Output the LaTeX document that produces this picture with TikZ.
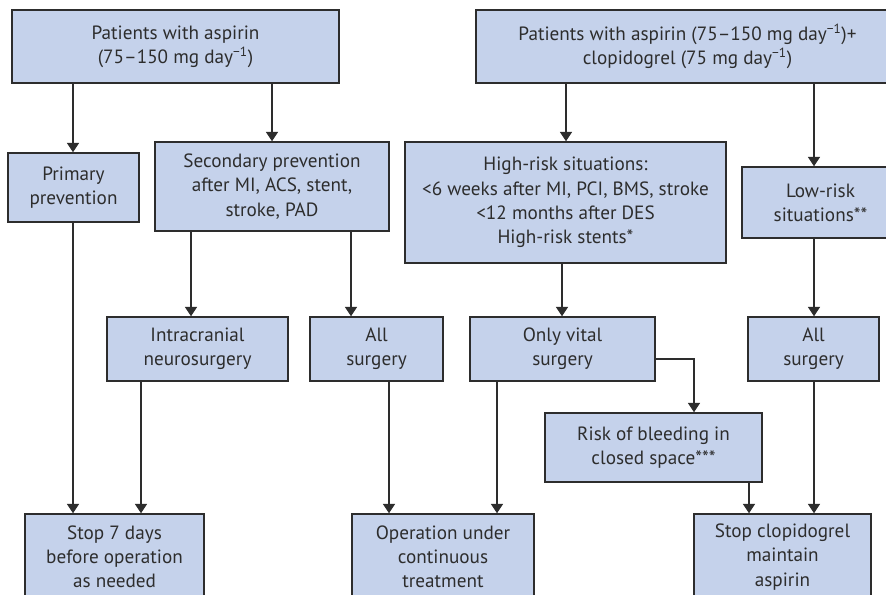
\documentclass[tikz,border=0pt]{standalone}
\usepackage{fontspec}
\setmainfont{PT Sans}
\usetikzlibrary{arrows.meta}
\definecolor{boxfill}{RGB}{197,210,235}
\definecolor{ink}{RGB}{45,45,45}
\tikzset{
  box/.style 2 args={draw=ink, line width=1.1pt, fill=boxfill, text=ink,
    align=center, inner sep=2pt,
    minimum width=#1*0.75pt, minimum height=#2*0.75pt,
    font=\fontsize{14.4}{18.2}\selectfont},
  arr/.style={draw=ink, line width=0.8pt, -{Triangle[length=7pt,width=9pt]}}
}
\newcommand{\perday}{day\textsuperscript{−1}}
\begin{document}
\begin{tikzpicture}[x=0.75pt,y=-0.75pt]
\useasboundingbox (0,0) rectangle (886,594);
\clip (0,0) rectangle (886,594);
\fill[white] (0,0) rectangle (886,594);

% top row
\node[box={327}{73}] (asp) at (175.5,46.5) {Patients with aspirin\\(75–150 mg \perday)};
\node[box={423}{73}] (dual) at (687.5,46.5) {Patients with aspirin (75–150 mg \perday)+\\clopidogrel (75 mg \perday)};

% second row
\node[box={131}{69}] (prim) at (73.5,187.5) {Primary\\prevention};
\node[box={234}{89}] (sec) at (272,186.5) {Secondary prevention\\after MI, ACS, stent,\\stroke, PAD};
\node[box={321}{121}] (high) at (565.5,202.5) {High-risk situations:\\<6 weeks after MI, PCI, BMS, stroke\\<12 months after DES\\High-risk stents*};
\node[box={157}{71}] (low) at (820.5,202.5) {Low-risk\\situations**};

% third row
\node[box={181}{64}] (intra) at (197.5,349) {Intracranial\\neurosurgery};
\node[box={133}{64}] (allL) at (376.5,349) {All\\surgery};
\node[box={185}{64}] (vital) at (562.5,349) {Only vital\\surgery};
\node[box={131}{64}] (allR) at (813.5,349) {All\\surgery};
\node[box={217}{69}] (risk) at (653.5,447.5) {Risk of bleeding in\\closed space***};

% outcomes
\node[box={179}{86}] (stop7) at (114.5,557) {Stop 7 days\\before operation\\as needed};
\node[box={182}{86}] (oper) at (443,557) {Operation under\\continuous\\treatment};
\node[box={177}{86}] (stopc) at (782.5,557) {Stop clopidogrel\\maintain\\aspirin};

% connector columns
\coordinate (cPrim) at (73,0);
\coordinate (cSec) at (272,0);
\coordinate (cHigh) at (566,0);
\coordinate (cLow) at (814,0);
\coordinate (cIntra) at (191,0);
\coordinate (cAllL) at (351,0);
\coordinate (cStopIn) at (141,0);
\coordinate (cOper) at (389,0);
\coordinate (cVital) at (562,0);
\coordinate (cVitalOut) at (497,0);
\coordinate (cRisk) at (694,0);
\coordinate (cRiskOut) at (749,0);
\coordinate (vitalSide) at (0,359);

\draw[arr] (asp.south -| cPrim) -- (prim.north -| cPrim);
\draw[arr] (asp.south -| cSec) -- (sec.north -| cSec);
\draw[arr] (dual.south -| cHigh) -- (high.north -| cHigh);
\draw[arr] (dual.south -| cLow) -- (low.north -| cLow);

\draw[arr] (sec.south -| cIntra) -- (intra.north -| cIntra);
\draw[arr] (sec.south -| cAllL) -- (allL.north -| cAllL);
\draw[arr] (high.south -| cVital) -- (vital.north -| cVital);
\draw[arr] (low.south -| cLow) -- (allR.north -| cLow);

\draw[arr] (prim.south -| cPrim) -- (stop7.north -| cPrim);
\draw[arr] (intra.south -| cStopIn) -- (stop7.north -| cStopIn);
\draw[arr] (allL.south -| cOper) -- (oper.north -| cOper);
\draw[arr] (vital.south -| cVitalOut) -- (oper.north -| cVitalOut);
\draw[arr] (vital.east |- vitalSide) -| (risk.north -| cRisk);
\draw[arr] (risk.south -| cRiskOut) -- (stopc.north -| cRiskOut);
\draw[arr] (allR.south -| cLow) -- (stopc.north -| cLow);
\end{tikzpicture}
\end{document}
